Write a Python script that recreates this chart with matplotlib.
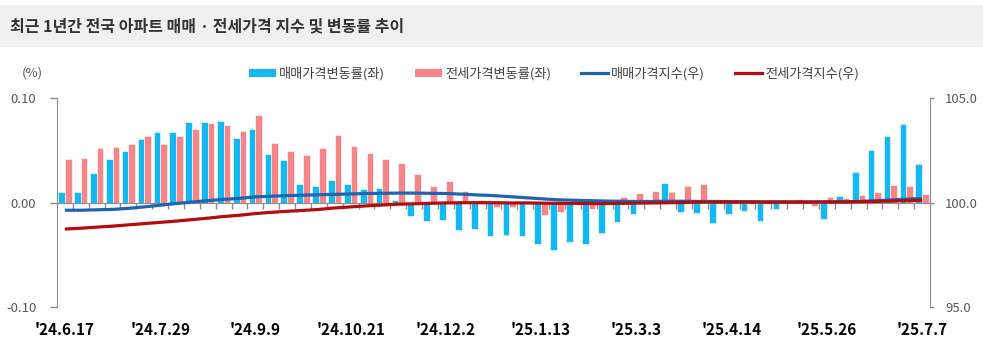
import numpy as np
import pandas as pd
import matplotlib
matplotlib.use("Agg")
import matplotlib.pyplot as plt
from matplotlib.patches import Rectangle, Patch
from matplotlib.lines import Line2D

plt.rcParams['font.family'] = ['Noto Sans CJK KR', 'DejaVu Sans']

# weekly survey dates (Lunar New Year week 2025-01-27 not published)
weeks = pd.date_range('2024-06-17', '2025-07-07', freq='7D').drop(pd.Timestamp('2025-01-27'))
week_labels = ["'%d.%d.%d" % (d.year % 100, d.month, d.day) for d in weeks]

# weekly change, % (left axis)
sale_chg = [0.010, 0.010, 0.028, 0.042, 0.049, 0.061, 0.067, 0.067, 0.077, 0.077,
            0.078, 0.062, 0.070, 0.046, 0.041, 0.018, 0.016, 0.022, 0.018, 0.013,
            0.014, 0.002, -0.013, -0.018, -0.017, -0.026, -0.025, -0.032, -0.031, -0.032,
            -0.040, -0.045, -0.038, -0.040, -0.029, -0.019, -0.011, 0.001, 0.019, -0.009,
            -0.010, -0.020, -0.011, -0.008, -0.018, -0.006, 0.001, 0.000, -0.016, 0.006,
            0.029, 0.050, 0.064, 0.075, 0.037]
jeonse_chg = [0.042, 0.043, 0.052, 0.053, 0.056, 0.064, 0.056, 0.064, 0.070, 0.076,
              0.074, 0.068, 0.084, 0.057, 0.049, 0.045, 0.052, 0.065, 0.054, 0.047,
              0.042, 0.038, 0.027, 0.016, 0.021, 0.011, 0.002, -0.004, -0.004, -0.001,
              -0.012, -0.009, -0.001, -0.006, 0.001, 0.005, 0.009, 0.011, 0.010, 0.016,
              0.018, 0.000, 0.002, -0.001, 0.000, 0.002, 0.003, -0.003, 0.005, 0.004,
              0.007, 0.010, 0.017, 0.016, 0.008]

# price index (right axis)
sale_idx = [99.63, 99.63, 99.65, 99.67, 99.72, 99.79, 99.87, 99.95, 100.02, 100.09,
            100.15, 100.20, 100.27, 100.30, 100.33, 100.35, 100.37, 100.39, 100.41, 100.43,
            100.44, 100.45, 100.45, 100.44, 100.43, 100.40, 100.36, 100.33, 100.28, 100.23,
            100.18, 100.13, 100.11, 100.09, 100.07, 100.06, 100.05, 100.05, 100.06, 100.06,
            100.05, 100.05, 100.04, 100.04, 100.03, 100.03, 100.03, 100.03, 100.02, 100.03,
            100.05, 100.08, 100.12, 100.16, 100.19]
jeonse_idx = [98.73, 98.77, 98.82, 98.87, 98.93, 98.99, 99.05, 99.11, 99.18, 99.25,
              99.33, 99.39, 99.47, 99.53, 99.58, 99.62, 99.67, 99.74, 99.79, 99.84,
              99.88, 99.92, 99.94, 99.96, 99.98, 99.99, 99.99, 99.99, 99.98, 99.98,
              99.97, 99.96, 99.96, 99.95, 99.95, 99.96, 99.97, 99.98, 99.99, 100.00,
              100.02, 100.02, 100.02, 100.02, 100.02, 100.02, 100.02, 100.02, 100.03, 100.03,
              100.04, 100.05, 100.07, 100.09, 100.10]

c_sale_bar = '#14B9F4'
c_jeonse_bar = '#F4868A'
c_sale_line = '#1F64AE'
c_jeonse_line = '#B50D0D'
grey = '#8C8C8C'
txt = '#595959'

fig = plt.figure(figsize=(9.83, 3.54), dpi=100)
fig.patches.append(Rectangle((0, 1 - 47 / 354), 1, 42 / 354, transform=fig.transFigure,
                             facecolor='#F0F0F0', edgecolor='none', zorder=0))
fig.text(10 / 983, 1 - 26 / 354, '최근 1년간 전국 아파트 매매 · 전세가격 지수 및 변동률 추이',
         fontsize=11.5, fontweight='bold', color='#333333', va='center', ha='left')

ax = fig.add_axes([57 / 983, 47 / 354, (930 - 57) / 983, (307 - 98) / 354])
x = np.arange(len(weeks))
w = 0.42
ax.bar(x - w / 2, sale_chg, width=w, color=c_sale_bar, edgecolor='white', linewidth=0.4, zorder=2)
ax.bar(x + w / 2, jeonse_chg, width=w, color=c_jeonse_bar, edgecolor='white', linewidth=0.4, zorder=2)
ax.set_xlim(-0.5, len(weeks) - 0.5)
ax.set_ylim(-0.1, 0.1)
ax.set_yticks([-0.1, 0.0, 0.1])
ax.set_yticklabels(['-0.10', '0.00', '0.10'])
ax.tick_params(axis='y', length=5, width=1, color=grey, pad=10, labelsize=9.5, labelcolor=txt)

ax.spines['top'].set_visible(False)
ax.spines['right'].set_visible(False)
ax.spines['left'].set_color(grey)
ax.spines['bottom'].set_position(('data', 0))
ax.spines['bottom'].set_color(grey)
ax.spines['bottom'].set_zorder(3)
ax.set_xticks(x[:-1] + 0.5, minor=True)
ax.set_xticks([])
ax.tick_params(axis='x', which='minor', length=4, width=1, color=grey, direction='out')

sec = ax.secondary_xaxis('bottom')
sec.set_xticks(x[::6])
sec.set_xticklabels(week_labels[::6])
sec.spines['bottom'].set_visible(False)
sec.tick_params(length=0, pad=11, labelsize=11)
for lab in sec.get_xticklabels():
    lab.set_fontweight('bold')
    lab.set_color('black')

ax2 = ax.twinx()
ax2.plot(x, sale_idx, color=c_sale_line, linewidth=2.3, solid_capstyle='butt')
ax2.plot(x, jeonse_idx, color=c_jeonse_line, linewidth=2.3, solid_capstyle='butt')
ax2.set_ylim(95, 105)
ax2.set_yticks([95, 100, 105])
ax2.set_yticklabels(['95.0', '100.0', '105.0'])
ax2.tick_params(axis='y', length=3, width=1, color=grey, pad=8, labelsize=9.5, labelcolor=txt)
for s in ['top', 'left', 'bottom']:
    ax2.spines[s].set_visible(False)
ax2.spines['right'].set_color(grey)

fig.text(32 / 983, 1 - 73 / 354, '(%)', fontsize=9.5, color=txt, ha='center', va='center')

handles = [Patch(facecolor=c_sale_bar, edgecolor='none'),
           Patch(facecolor=c_jeonse_bar, edgecolor='none'),
           Line2D([], [], color=c_sale_line, linewidth=2.3),
           Line2D([], [], color=c_jeonse_line, linewidth=2.3)]
names = ['매매가격변동률(좌)', '전세가격변동률(좌)', '매매가격지수(우)', '전세가격지수(우)']
fig.legend(handles, names, ncol=4, frameon=False, loc='center',
           bbox_to_anchor=(554 / 983, 1 - 74 / 354), fontsize=9.5,
           handlelength=2.0, handleheight=0.6, handletextpad=0.25,
           columnspacing=2.3, labelcolor='#404040')

fig.savefig('out.png', dpi=100)
